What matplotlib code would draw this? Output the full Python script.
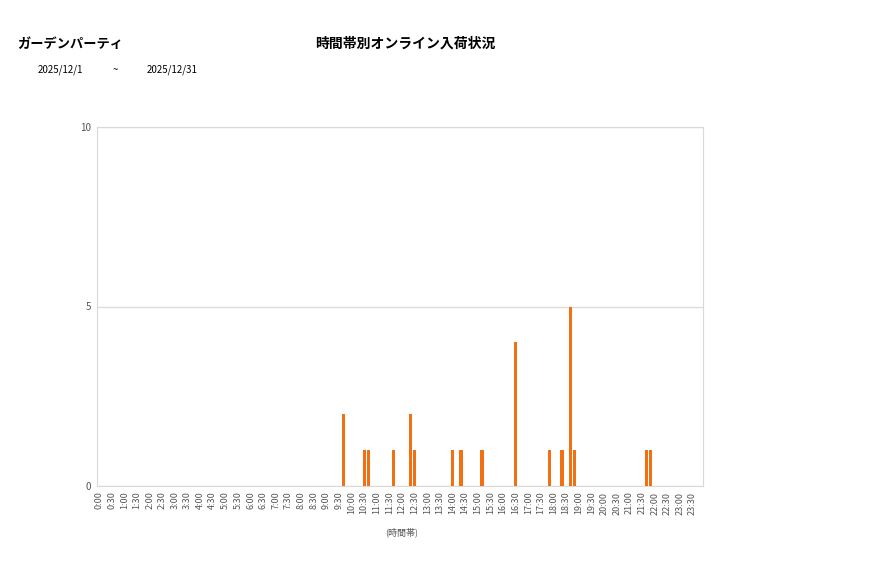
import matplotlib
matplotlib.use("Agg")
import matplotlib.pyplot as plt

plt.rcParams['font.family'] = ['Noto Sans CJK JP', 'DejaVu Sans']

# arrivals per 10-minute slot (only non-zero slots listed)
arrival_times = ["9:40", "10:30", "10:40", "11:40", "12:20", "12:30", "14:00", "14:20",
                 "15:10", "16:30", "17:50", "18:20", "18:40", "18:50", "21:40", "21:50"]
arrival_counts = [2, 1, 1, 1, 2, 1, 1, 1, 1, 4, 1, 1, 5, 1, 1, 1]

shop_name = "ガーデンパーティ"
chart_title = "時間帯別オンライン入荷状況"
date_from = "2025/12/1"
date_to = "2025/12/31"
x_title = "(時間帯)"
y_ticks = [0, 5, 10]

# all 10-minute slots of the day
slots = ["%d:%02d" % (h, m) for h in range(24) for m in range(0, 60, 10)]
counts = dict(zip(arrival_times, arrival_counts))
values = [counts.get(s, 0) for s in slots]

fig = plt.figure(figsize=(8.77, 5.78), dpi=100)
ax = fig.add_axes([97 / 877, 92 / 578, 606 / 877, 359 / 578])

ax.bar(range(len(slots)), values, width=0.75, color="#F07012", zorder=3)

ax.set_xlim(-0.5, len(slots) - 0.5)
ax.set_ylim(0, 10)
ax.set_yticks(y_ticks)
ax.set_yticklabels([str(t) for t in y_ticks], fontsize=7, color="#555555")
ax.set_xticks(range(0, len(slots), 3))
ax.set_xticklabels(slots[::3], rotation=90, fontsize=6.5, color="#555555")
ax.tick_params(length=0, pad=4)
ax.grid(axis="y", color="#dddddd", linewidth=1, zorder=0)
for sp in ax.spines.values():
    sp.set_color("#d9d9d9")

fig.text(402 / 877, 1 - 532 / 578, x_title, fontsize=6.5, color="#555555",
         ha="center", va="center")

# header texts
fig.text(17 / 877, 1 - 44 / 578, shop_name, fontsize=9.5, fontweight="bold",
         ha="left", va="center")
fig.text(405 / 877, 1 - 44 / 578, chart_title, fontsize=10, fontweight="bold",
         ha="center", va="center")
fig.text(38 / 877, 1 - 70 / 578, date_from, fontsize=7, ha="left", va="center")
fig.text(115 / 877, 1 - 70 / 578, "~", fontsize=7, ha="center", va="center")
fig.text(147 / 877, 1 - 70 / 578, date_to, fontsize=7, ha="left", va="center")

fig.savefig("out.png", dpi=100)
